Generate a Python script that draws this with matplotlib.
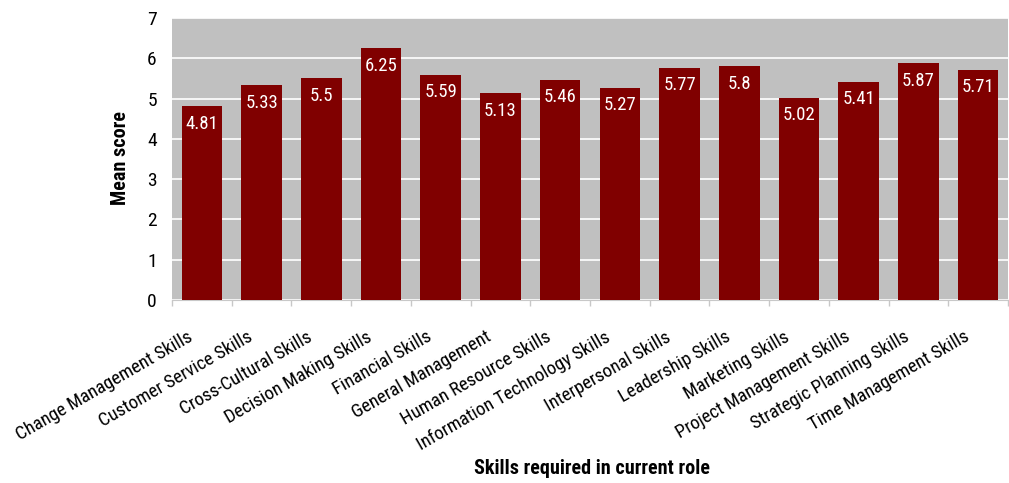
import matplotlib.pyplot as plt
from matplotlib.transforms import ScaledTranslation

plt.rcParams['font.family'] = ['Roboto Condensed', 'DejaVu Sans']

skills = ['Change Management Skills', 'Customer Service Skills', 'Cross-Cultural Skills',
          'Decision Making Skills', 'Financial Skills', 'General Management',
          'Human Resource Skills', 'Information Technology Skills', 'Interpersonal Skills',
          'Leadership Skills', 'Marketing Skills', 'Project Management Skills',
          'Strategic Planning Skills', 'Time Management Skills']
scores = [4.81, 5.33, 5.5, 6.25, 5.59, 5.13, 5.46, 5.27, 5.77, 5.8, 5.02, 5.41, 5.87, 5.71]

fig = plt.figure(figsize=(10.09, 4.83), dpi=100)
ax = fig.add_axes([0.1705, 0.3789, 0.8285, 0.5839])
ax.set_facecolor('#c0c0c0')

x = range(len(skills))
ax.bar(x, scores, width=0.68, color='#800000', zorder=3)

# value labels sit just inside the top of each bar
for i, v in enumerate(scores):
    ax.text(i, v - 0.43, f'{v:g}', color='white', ha='center', va='center', fontsize=13.5, zorder=4)

ax.set_xlim(-0.5, len(skills) - 0.5)
ax.set_ylim(0, 7)
ax.set_yticks(range(8))
ax.yaxis.grid(True, color='white', linewidth=1.2, zorder=1)
ax.tick_params(axis='y', length=0, labelsize=14, pad=11)

# ticks at category boundaries; category names drawn as slanted text below
ax.set_xticks([i - 0.5 for i in range(len(skills) + 1)])
ax.set_xticklabels([])
ax.tick_params(axis='x', length=4.5, color='#c8c8c8', width=1)
offset = ScaledTranslation(-0.15, -0.28, fig.dpi_scale_trans)
for i, name in enumerate(skills):
    ax.text(i, 0, name, transform=ax.get_xaxis_transform() + offset, rotation=30,
            rotation_mode='anchor', ha='right', va='top', fontsize=13.5)

for s in ['top', 'right', 'left']:
    ax.spines[s].set_visible(False)
ax.spines['bottom'].set_color('#c8c8c8')

fig.text(120 / 1009, 1 - 158 / 483, 'Mean score', rotation=90, fontsize=14.5,
         fontweight='bold', ha='center', va='center')
fig.text(592 / 1009, 1 - 468 / 483, 'Skills required in current role', fontsize=14.5,
         fontweight='bold', ha='center', va='center')

fig.savefig('out.png', dpi=100)
